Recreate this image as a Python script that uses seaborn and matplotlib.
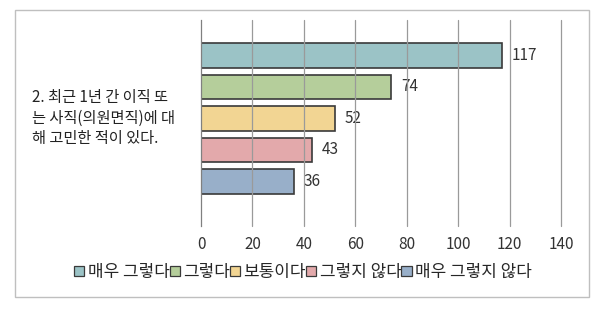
import matplotlib
matplotlib.use("Agg")
import matplotlib.pyplot as plt
import matplotlib.patches as mpatches
import seaborn as sns
import pandas as pd

categories = ["매우 그렇다", "그렇다", "보통이다", "그렇지 않다", "매우 그렇지 않다"]
values = [117, 74, 52, 43, 36]
question = "2. 최근 1년 간 이직 또\n는 사직(의원면직)에 대\n해 고민한 적이 있다."
xticks = [0, 20, 40, 60, 80, 100, 120, 140]
colors = ["#9BC3C6", "#B5CE9B", "#F2D593", "#E3A9AB", "#98AFC9"]

sns.set_theme(style="white")
plt.rcParams["font.family"] = ["Noto Sans CJK KR", "DejaVu Sans"]

df = pd.DataFrame({"q": [question] * len(values), "cat": categories, "val": values})

fig = plt.figure(figsize=(6, 3.1), dpi=100)
ax = fig.add_axes([201 / 600, 1 - 226 / 310, 360 / 600, 206 / 310])

sns.barplot(data=df, y="q", x="val", hue="cat", hue_order=categories,
            palette=colors, saturation=1, orient="h", width=0.765, gap=0.21,
            edgecolor="#3a3a3a", linewidth=1.2, ax=ax, legend=False, zorder=1)

for c in ax.containers:
    ax.bar_label(c, padding=7, fontsize=11, color="#333333")

ax.set_xlim(0, 140)
y0, y1 = 0.522, -0.478
ax.set_ylim(y0, y1)
ax.set_xticks(xticks)
ax.set_xticklabels([str(t) for t in xticks], fontsize=11, color="#333333")
ax.tick_params(axis="x", length=0, pad=7)
ax.set_yticks([y1, y0])
ax.set_yticklabels(["", ""])
ax.tick_params(axis="y", length=4, width=0.9, color="#808080", direction="out")
for x in xticks[1:]:
    ax.axvline(x, color="#9a9a9a", lw=0.9, zorder=3, clip_on=False)
ax.set_xlabel("")
ax.set_ylabel("")
for s in ["top", "right", "bottom"]:
    ax.spines[s].set_visible(False)
ax.spines["left"].set_color("#808080")
ax.spines["left"].set_linewidth(0.9)

fig.text(32 / 600, 1 - 118 / 310, question, ha="left", va="center",
         fontsize=11, color="#222222", linespacing=1.3)

handles = [mpatches.Patch(facecolor=col, edgecolor="#3a3a3a", lw=0.9) for col in colors]
fig.legend(handles, categories, loc="center", bbox_to_anchor=(0.505, 1 - 272 / 310),
           ncol=5, frameon=False, fontsize=12.2, handlelength=0.6, handleheight=0.6,
           handletextpad=0.2, columnspacing=0.0, borderpad=0)

fig.patches.append(mpatches.Rectangle((15 / 600, 1 - 297 / 310), 574 / 600, 287 / 310,
                                      transform=fig.transFigure, fill=False,
                                      edgecolor="#bfbfbf", lw=1.0))

fig.savefig("out.png", dpi=100)
